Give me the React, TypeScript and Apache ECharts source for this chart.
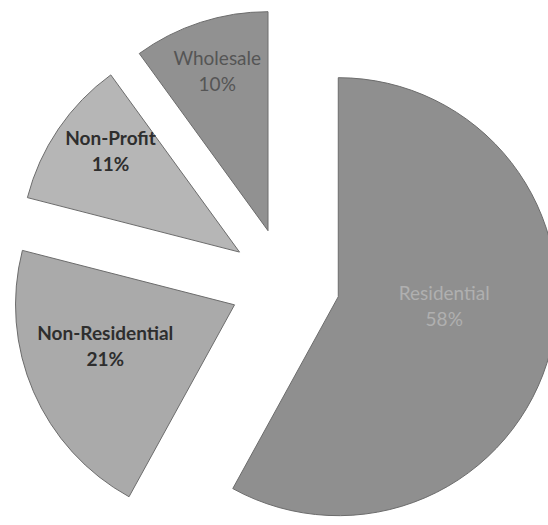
import React, { useEffect, useRef } from "react";
import * as echarts from "echarts";

const categories = ["Residential", "Non-Residential", "Non-Profit", "Wholesale"];
const values = [58, 21, 11, 10];

const sliceColors = ["#8f8f8f", "#aaaaaa", "#b6b6b6", "#919191"];
const labelColors = ["#b0b0b0", "#2e2e2e", "#2e2e2e", "#555555"];
const labelWeights = ["normal", "bold", "bold", "normal"];
// small nudges of the label blocks away from the default mid-radius spot
const labelNudge: [number, number][] = [
  [-3, -19],
  [-26, -4],
  [-36, -38],
  [-16, -53],
];

export default function App() {
  const ref = useRef<HTMLDivElement>(null);
  useEffect(() => {
    if (!ref.current) return;
    const chart = echarts.init(ref.current, undefined, { renderer: "svg" });
    chart.setOption({
      animation: false,
      backgroundColor: "#ffffff",
      series: [
        {
          type: "pie",
          center: [285, 283],
          radius: 219,
          startAngle: 90,
          clockwise: true,
          selectedMode: "multiple",
          selectedOffset: 55,
          avoidLabelOverlap: false,
          emphasis: { disabled: true },
          itemStyle: { borderColor: "#6c6c6c", borderWidth: 1 },
          select: { itemStyle: { borderColor: "#6c6c6c", borderWidth: 1 } },
          label: {
            show: true,
            position: "inside",
            formatter: "{b}\n{d}%",
            fontFamily: "Lato",
            fontSize: 19,
            lineHeight: 26,
            align: "center",
            textBorderWidth: 0,
          },
          labelLine: { show: false },
          labelLayout: (p: any) => ({
            dx: labelNudge[p.dataIndex][0],
            dy: labelNudge[p.dataIndex][1],
          }),
          data: categories.map((name, i) => ({
            name,
            value: values[i],
            selected: true,
            itemStyle: { color: sliceColors[i] },
            label: { color: labelColors[i], fontWeight: labelWeights[i] },
            select: {
              itemStyle: { color: sliceColors[i] },
              label: { color: labelColors[i], fontWeight: labelWeights[i] },
            },
          })),
        },
      ],
    });
    return () => chart.dispose();
  }, []);
  return (
    <div
      ref={ref}
      style={{ position: "fixed", left: 0, top: 0, width: 548, height: 525 }}
    />
  );
}
